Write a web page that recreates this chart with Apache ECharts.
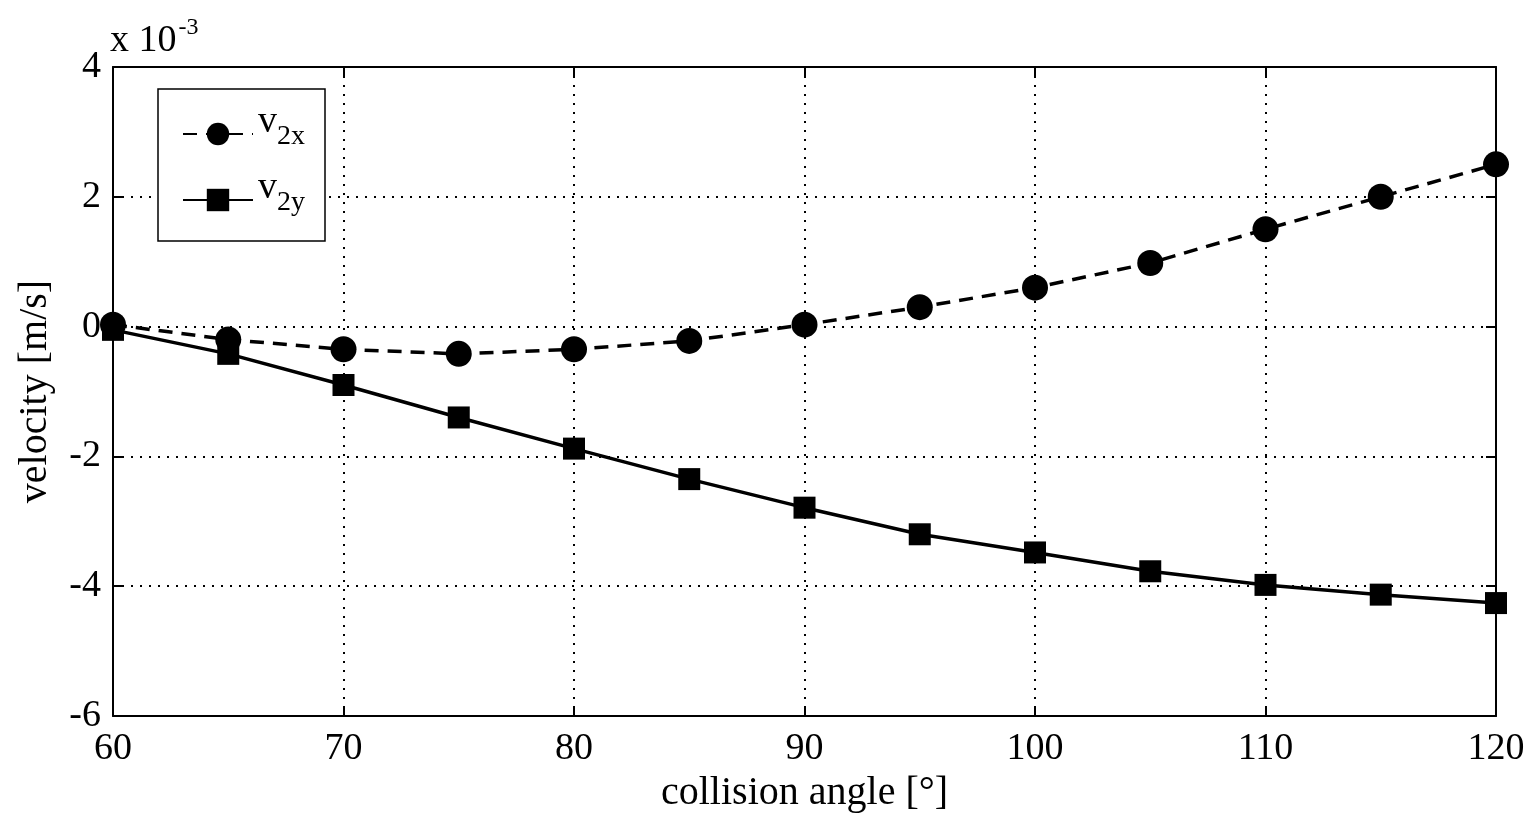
<!DOCTYPE html>
<html>
<head>
<meta charset="utf-8">
<script src="https://cdn.jsdelivr.net/npm/echarts@6/dist/echarts.min.js"></script>
<style>
  html, body { margin: 0; padding: 0; background: #fff; }
  #chart { width: 1534px; height: 815px; }
</style>
</head>
<body>
<div id="chart"></div>
<script>
// collision angle in degrees
const angles = [60, 65, 70, 75, 80, 85, 90, 95, 100, 105, 110, 115, 120];
// velocity components (×10^-3 m/s)
const v2x = [0.03, -0.2, -0.35, -0.42, -0.35, -0.22, 0.03, 0.3, 0.6, 0.98, 1.5, 2.0, 2.5];
const v2y = [-0.05, -0.42, -0.9, -1.4, -1.88, -2.35, -2.79, -3.2, -3.48, -3.77, -3.98, -4.13, -4.26];
const yTicks = [-6, -4, -2, 0, 2, 4];

const FONT = 'Liberation Serif';
const chart = echarts.init(document.getElementById('chart'));

const pairs = arr => angles.map((a, i) => [a, arr[i]]);
const sub = {
  base: { fontFamily: FONT, fontSize: 38, color: '#000' },
  s: { fontFamily: FONT, fontSize: 28, color: '#000', padding: [30, 0, 0, 0] }
};

const boxAxis = {
  axisLine: { show: true, onZero: false, lineStyle: { color: '#000', width: 2 } },
  axisTick: { show: true, inside: true, length: 10, lineStyle: { color: '#000', width: 2 } },
  axisLabel: { show: false },
  splitLine: { show: false }
};

chart.setOption({
  animation: false,
  grid: { left: 113, right: 38, top: 67, bottom: 99, outerBoundsMode: 'none', containLabel: false },
  legend: {
    left: 158, top: 89,
    orient: 'vertical',
    itemWidth: 70, itemHeight: 28, itemGap: 18,
    padding: [14, 20, 24, 24],
    borderColor: '#000', borderWidth: 1.5,
    backgroundColor: '#fff',
    data: ['v2x', 'v2y'],
    formatter: n => n === 'v2x' ? '{base|v}{s|2x}' : '{base|v}{s|2y}',
    textStyle: { rich: sub, padding: [-24, 0, 0, 0] }
  },
  graphic: [{
    type: 'text', left: 110, top: 16,
    style: {
      text: '{a|x 10}{e|-3}',
      rich: {
        a: { fontFamily: FONT, fontSize: 38, color: '#000' },
        e: { fontFamily: FONT, fontSize: 24, color: '#000', padding: [0, 0, 26, 2] }
      }
    }
  }],
  xAxis: [{
    type: 'value', min: 60, max: 120, interval: 10,
    name: 'collision angle [°]', nameLocation: 'middle', nameGap: 57,
    nameTextStyle: { fontFamily: FONT, fontSize: 40, color: '#000' },
    axisLine: { onZero: false, lineStyle: { color: '#000', width: 2 } },
    axisTick: { inside: true, length: 10, lineStyle: { color: '#000', width: 2 } },
    axisLabel: { fontFamily: FONT, fontSize: 38, color: '#000', margin: 14 },
    splitLine: { show: true, lineStyle: { color: '#000', type: [2, 7], width: 2 } }
  }, Object.assign({ type: 'value', position: 'top', min: 60, max: 120, interval: 10 }, boxAxis)],
  yAxis: [{
    type: 'value', min: -6, max: 4, interval: 2,
    name: 'velocity [m/s]', nameLocation: 'middle', nameGap: 58,
    nameTextStyle: { fontFamily: FONT, fontSize: 40, color: '#000' },
    axisLine: { show: true, onZero: false, lineStyle: { color: '#000', width: 2 } },
    axisTick: { show: true, inside: true, length: 10, lineStyle: { color: '#000', width: 2 } },
    axisLabel: { fontFamily: FONT, fontSize: 38, color: '#000', margin: 12,
      formatter: v => yTicks.includes(v) ? String(v) : '' },
    splitLine: { show: true, lineStyle: { color: '#000', type: [2, 7], width: 2 } }
  }, Object.assign({ type: 'value', position: 'right', min: -6, max: 4, interval: 2 }, boxAxis)],
  series: [{
    name: 'v2x', type: 'line', data: pairs(v2x),
    symbol: 'circle', symbolSize: 26,
    lineStyle: { color: '#000', width: 3.5, type: [14, 9] },
    itemStyle: { color: '#000' }
  }, {
    name: 'v2y', type: 'line', data: pairs(v2y),
    symbol: 'rect', symbolSize: 22,
    lineStyle: { color: '#000', width: 3.5, type: 'solid' },
    itemStyle: { color: '#000' }
  }]
});
</script>
</body>
</html>
